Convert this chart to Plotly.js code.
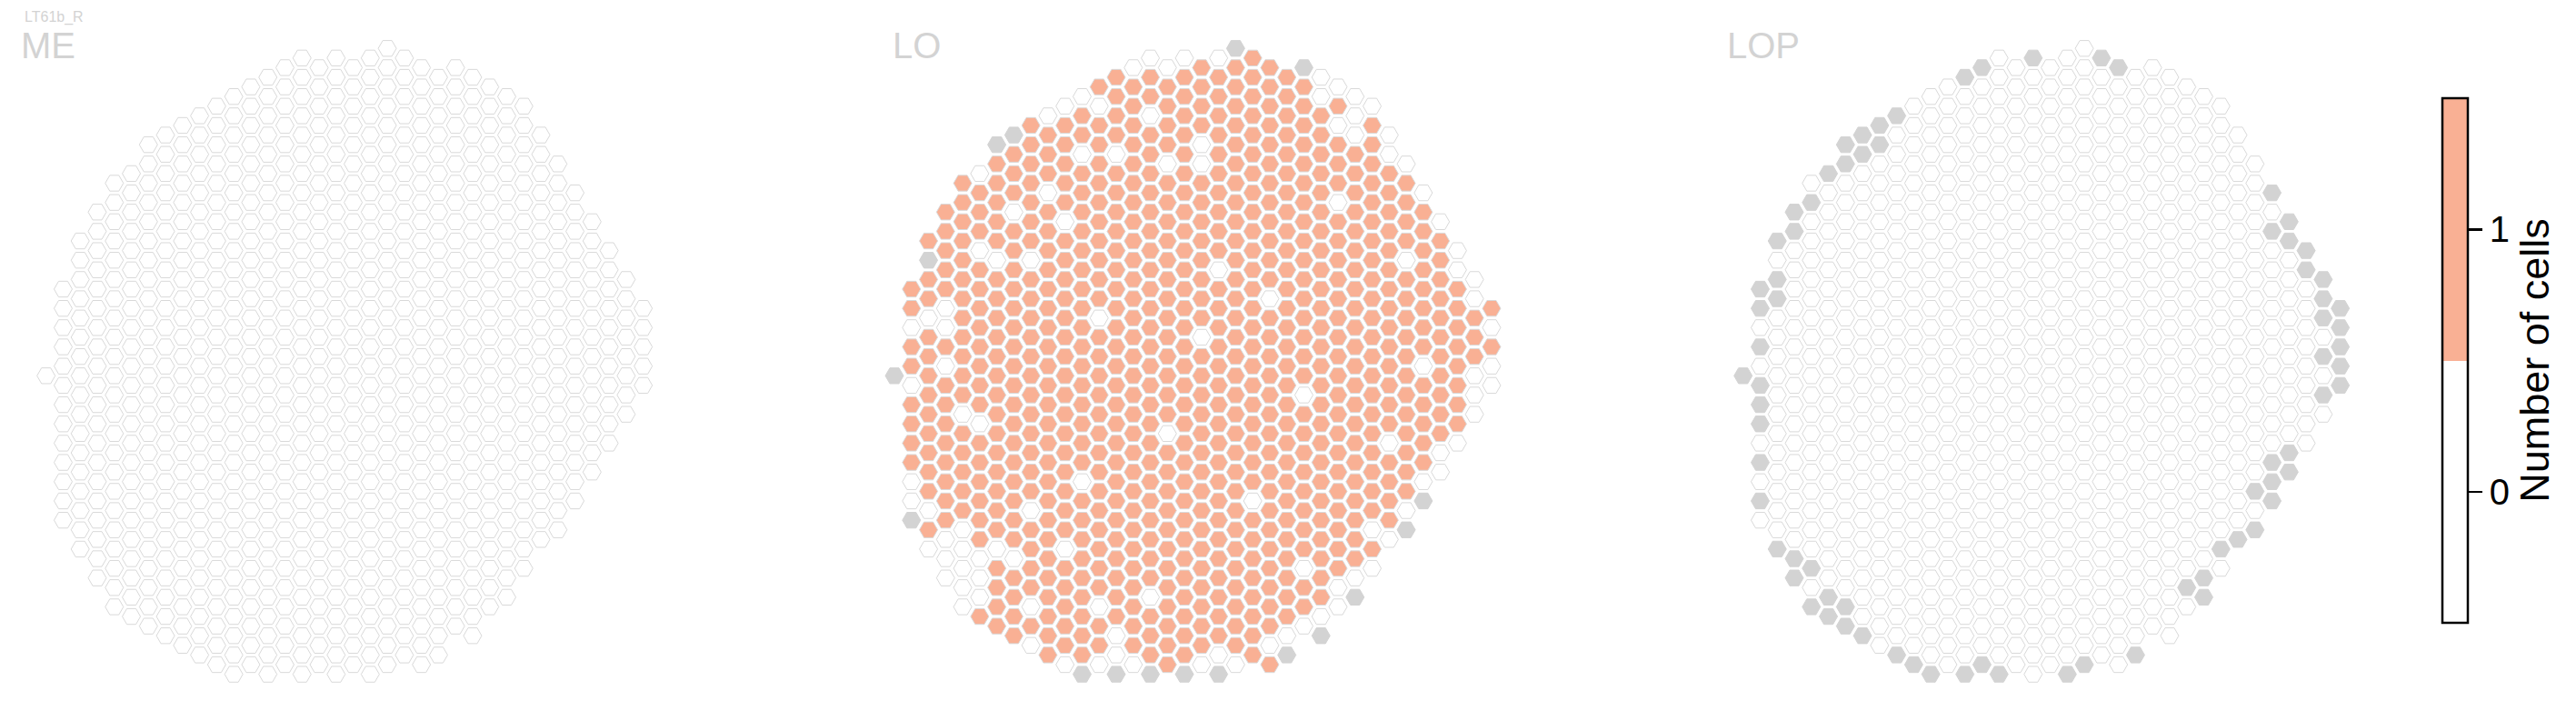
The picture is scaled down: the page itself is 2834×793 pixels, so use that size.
<!DOCTYPE html>
<html><head><meta charset="utf-8">
<script src="https://cdn.plot.ly/plotly-3.0.1.min.js"></script>
<style>html,body{margin:0;padding:0;background:#fff}#chart{width:2834px;height:793px}</style>
</head><body><div id="chart"></div>
<script>
// ---- DATA ----
const panelNames = ["ME", "LO", "LOP"];
const subjectLabel = "LT61b_R";
const colorbarTitle = "Number of cells";
const tickVals = [0, 1];
const tickText = ["0", "1"];

// hex grid: column k (0..35), half-row index h in each column from colTop[k] to colBottom[k] step 2
const colTop =    [0,-9,-14,-17,-20,-21,-24,-25,-26,-27,-28,-29,-30,-31,-32,-33,-32,-33,-32,-33,-34,-33,-32,-31,-32,-31,-30,-29,-28,-25,-22,-19,-16,-13,-10,-7];
const colBottom = [0,15,18,21,24,25,26,27,28,29,30,31,30,31,30,31,30,31,30,31,30,29,30,29,26,27,24,23,20,17,16,13,10,7,4,1];

// ME: every column has value 0
const ME_value = 0;
const ME_exceptions = [[],[],[],[],[],[],[],[],[],[],[],[],[],[],[],[],[],[],[],[],[],[],[],[],[],[],[],[],[],[],[],[],[],[],[],[]];
const ME_exceptionValue = 1;
const ME_missing = [[],[],[],[],[],[],[],[],[],[],[],[],[],[],[],[],[],[],[],[],[],[],[],[],[],[],[],[],[],[],[],[],[],[],[],[]];

// LO: value 1 except the listed cells (value 0); missing cells are grey
const LO_value = 1;
const LO_exceptionValue = 0;
const LO_exceptions = [
  [], [-5,1,11,13], [-6,14,18], [-7,-5,-1,17,19,21], [4,16,18,20,22,24],
  [-21,-13,5,19,21,23], [-12,18], [-17,19], [-12,14,24,28], [-27,-19],
  [-28,-16,18,30], [-29,-23,11], [-28,-6,24,30], [-23,27,29], [-32,30],
  [-33,-27,23], [-32,-22,6], [-33], [-24,-22,-4,30], [-33,-11,29],
  [30], [13], [-8,28], [27], [2,20,26],
  [-31,-29,25], [-30,-26,-18,22,24], [-29,-27,-25,21], [-28,16,20], [-25,-23,7,17],
  [-22,-12,14], [-19,-1,11], [-16,8,10], [-13,-11,7], [-10,-8,0,2,4], [-5,-1,1]
];
const LO_missing = [
  [0], [15], [-12], [], [], [], [-24], [-25], [], [], [], [31], [], [31], [], [31], [], [31], [], [31],
  [-34], [], [], [29], [-32], [27], [], [23], [], [], [16], [13], [], [], [], []
];

// LOP: value 0 everywhere; missing cells are grey
const LOP_value = 0;
const LOP_exceptionValue = 1;
const LOP_exceptions = [[],[],[],[],[],[],[],[],[],[],[],[],[],[],[],[],[],[],[],[],[],[],[],[],[],[],[],[],[],[],[],[],[],[],[],[]];
const LOP_missing = [
  [0], [-9,-7,-3,1,3,5,9,13], [-14,-10,-8,18], [-17,-15,19,21], [-18,20,24],
  [-21,23,25], [-24,-22,24,26], [-25,-23,27], [-26,-24], [-27,29],
  [30], [31], [], [-31,31], [-32,30], [31], [], [-33], [], [31],
  [30], [-33], [-32], [29], [], [], [22], [21,23], [18], [17],
  [12,16], [-19,-15,9,11,13], [-16,-14,8,10], [-13,-11], [-10,-8,-6,-2,2], [-7,-5,-3,-1,1]
];

// ---- RENDER ----
const W = 2834, H = 793;
const DX = 18.77, DY = 10.59, Y0 = 413.3;
const colX0 = [50.7, 984, 1917.7];
const dom = [[0, 880], [900, 1850], [1870, 2660]];
const SALMON = '#f9b094', GREY = '#d3d3d3', EDGE = '#d9d9d9';
const FONT = 'Liberation Sans, Arial, sans-serif';

const panelData = [
  {val: ME_value, exc: ME_exceptions, excVal: ME_exceptionValue, miss: ME_missing},
  {val: LO_value, exc: LO_exceptions, excVal: LO_exceptionValue, miss: LO_missing},
  {val: LOP_value, exc: LOP_exceptions, excVal: LOP_exceptionValue, miss: LOP_missing}
];

const traces = [];
const layout = {
  width: W, height: H,
  margin: {l: 0, r: 0, t: 0, b: 0},
  paper_bgcolor: '#fff', plot_bgcolor: 'rgba(0,0,0,0)',
  showlegend: false,
  font: {family: FONT, color: '#000'},
  annotations: []
};

panelData.forEach((p, i) => {
  const xs = [], ys = [], vs = [], gx = [], gy = [];
  for (let k = 0; k < colTop.length; k++) {
    for (let h = colTop[k]; h <= colBottom[k]; h += 2) {
      if (p.miss[k].includes(h)) { gx.push(k); gy.push(-h); }
      else { xs.push(k); ys.push(-h); vs.push(p.exc[k].includes(h) ? p.excVal : p.val); }
    }
  }
  const sfx = i === 0 ? '' : String(i + 1);
  const mk = {symbol: 'hexagon2', size: 20, line: {color: EDGE, width: 1}};
  traces.push({
    type: 'scatter', mode: 'markers', x: gx, y: gy, xaxis: 'x' + sfx, yaxis: 'y' + sfx,
    hoverinfo: 'skip',
    marker: Object.assign({}, mk, {color: GREY, line: {color: GREY, width: 1}})
  });
  traces.push({
    type: 'scatter', mode: 'markers', x: xs, y: ys, xaxis: 'x' + sfx, yaxis: 'y' + sfx,
    hoverinfo: 'skip',
    marker: Object.assign({}, mk, {
      color: vs, cmin: -0.5, cmax: 1.5,
      colorscale: [[0, '#ffffff'], [0.5, '#ffffff'], [0.5, SALMON], [1, SALMON]],
      showscale: i === 1,
      colorbar: {
        x: 2687 / W, xanchor: 'left', xpad: 0,
        y: 0.5, yanchor: 'middle', ypad: 0,
        len: 577, lenmode: 'pixels',
        thickness: 28, thicknessmode: 'pixels',
        outlinewidth: 2.5, outlinecolor: '#000',
        tickmode: 'array', tickvals: tickVals, ticktext: tickText,
        ticks: 'outside', ticklen: 15, tickwidth: 2.5, tickcolor: '#000',
        tickfont: {size: 40, color: '#000', family: FONT},
        title: {text: colorbarTitle, side: 'right', font: {size: 45, color: '#000', family: FONT}}
      }
    })
  });
  const x0 = colX0[i];
  layout['xaxis' + sfx] = {
    domain: [dom[i][0] / W, dom[i][1] / W],
    range: [(dom[i][0] - x0) / DX, (dom[i][1] - x0) / DX],
    visible: false, fixedrange: true, anchor: 'y' + sfx
  };
  layout['yaxis' + sfx] = {
    domain: [0, 1],
    range: [-(H - Y0) / DY, Y0 / DY],
    visible: false, fixedrange: true, anchor: 'x' + sfx
  };
});

const labelX = [22, 981, 1899];
panelNames.forEach((n, i) => {
  layout.annotations.push({
    text: n, xref: 'paper', yref: 'paper', x: labelX[i] / W, y: 1 - 50 / H,
    xanchor: 'left', yanchor: 'middle', showarrow: false, borderpad: 0,
    font: {size: 40, color: '#d3d3d3', family: FONT}
  });
});
layout.annotations.push({
  text: subjectLabel, xref: 'paper', yref: 'paper', x: 26 / W, y: 1 - 19 / H,
  xanchor: 'left', yanchor: 'middle', showarrow: false, borderpad: 0,
  font: {size: 16, color: '#d3d3d3', family: FONT}
});

Plotly.newPlot('chart', traces, layout, {displayModeBar: false, staticPlot: true});
</script></body></html>
